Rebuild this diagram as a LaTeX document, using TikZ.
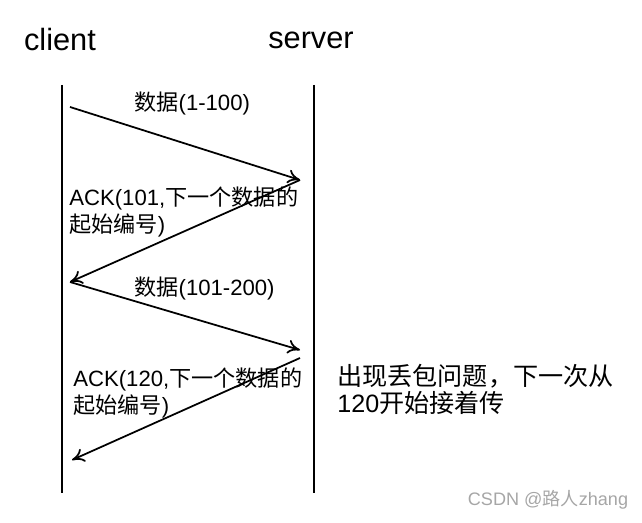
\documentclass[tikz,border=0pt]{standalone}
\usepackage{fontspec}
\setmainfont{Liberation Sans}
\newfontfamily\cjk{Noto Sans CJK SC}
\usetikzlibrary{arrows.meta}

\begin{document}
\begin{tikzpicture}[x=0.02cm,y=-0.02cm,
    life/.style={line width=1.6pt},
    msg/.style={line width=1pt,-{To[length=7pt,width=8pt]}},
    lbl/.style={font=\fontsize{12.6pt}{15.5pt}\selectfont,inner sep=0pt,anchor=west,align=left},
  ]
  \useasboundingbox (0,0) rectangle (642,523);

  \node[font=\fontsize{17.5pt}{20pt}\selectfont] (client) at (60,40) {client};
  \node[font=\fontsize{17.5pt}{20pt}\selectfont] (server) at (311,40) {server};

  \coordinate (c0) at (62,85);  \coordinate (c1) at (62,493);
  \coordinate (s0) at (314,85); \coordinate (s1) at (314,493);
  \draw[life] (c0) -- (c1);
  \draw[life] (s0) -- (s1);

  \coordinate (a1) at (70,107);  \coordinate (b1) at (300,180);
  \coordinate (a2) at (70,282);  \coordinate (b2) at (300,350);
  \coordinate (b3) at (300,358); \coordinate (a3) at (72,460);

  \draw[msg] (a1) -- (b1);
  \draw[msg] (b1) -- (a2);
  \draw[msg] (a2) -- (b2);
  \draw[msg] (b3) -- (a3);

  \node[lbl] (m1) at (134,103) {{\cjk 数据}(1-100)};
  \node[lbl,anchor=north west] (k1) at (69,186) {ACK(101,{\cjk 下一个数据的}\\{\cjk 起始编号})};
  \node[lbl] (m2) at (134,288) {{\cjk 数据}(101-200)};
  \node[lbl,anchor=north west] (k2) at (73,367) {ACK(120,{\cjk 下一个数据的}\\{\cjk 起始编号})};

  \node[lbl,font=\fontsize{14.3pt}{15.5pt}\selectfont,anchor=north west] (note) at (337,364)
    {{\cjk 出现丢包问题，下一次从}\\120{\cjk 开始接着传}};

  \node[font=\fontsize{10.3pt}{11pt}\selectfont,text=gray!70] (mark) at (548,500) {CSDN @{\cjk 路人}zhang};
\end{tikzpicture}
\end{document}
